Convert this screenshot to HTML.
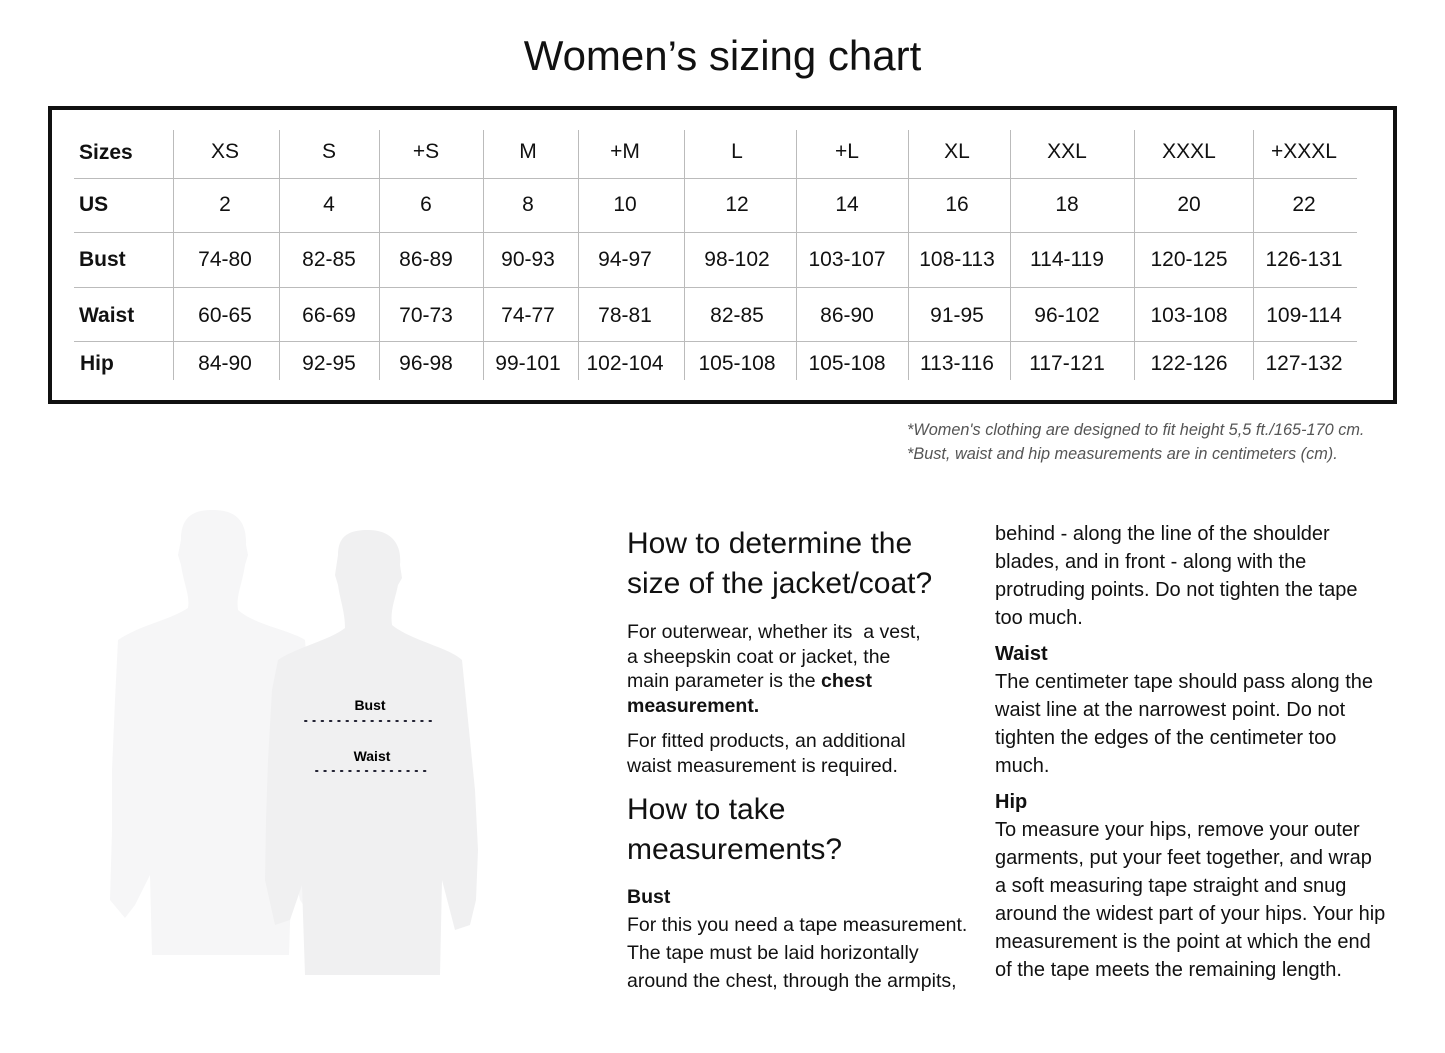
<!DOCTYPE html>
<html><head><meta charset="utf-8"><style>
body{margin:0;width:1445px;height:1053px;background:#fff;position:relative;font-family:"Liberation Sans","DejaVu Sans",sans-serif;color:#111;overflow:hidden}
.a{position:absolute;white-space:nowrap}
.t{position:absolute;transform:translate(-50%,-50%);font-size:21px;white-space:nowrap}
.h{position:absolute;font-weight:bold;font-size:21px;transform:translateY(-50%)}
.vl{position:absolute;width:1px;background:#bbb;top:130px;height:250px}
.hl{position:absolute;height:1px;background:#bbb;left:74px;width:1283px}
.p{position:absolute;font-size:19.5px;line-height:24.5px;white-space:nowrap}
.r{position:absolute;left:995px;width:440px;font-size:20px;line-height:28px;white-space:nowrap}
</style></head><body>
<div class="a" style="left:0;width:1445px;text-align:center;top:32px;font-size:42px">Women’s sizing chart</div>
<div style="position:absolute;left:48px;top:106px;width:1341px;height:290px;border:4px solid #111"></div>
<div class="vl" style="left:173px"></div><div class="vl" style="left:279px"></div><div class="vl" style="left:379px"></div><div class="vl" style="left:483px"></div><div class="vl" style="left:578px"></div><div class="vl" style="left:684px"></div><div class="vl" style="left:796px"></div><div class="vl" style="left:908px"></div><div class="vl" style="left:1010px"></div><div class="vl" style="left:1134px"></div><div class="vl" style="left:1253px"></div>
<div class="hl" style="top:178px"></div><div class="hl" style="top:232px"></div><div class="hl" style="top:287px"></div><div class="hl" style="top:341px"></div>
<div class="h" style="left:79px;top:153px">Sizes</div><div class="h" style="left:79px;top:205px">US</div><div class="h" style="left:79px;top:260px">Bust</div><div class="h" style="left:79px;top:316px">Waist</div><div class="h" style="left:80px;top:364px">Hip</div>
<div id="cells"></div>
<script>
var cx=[225,329,426,528,625,737,847,957,1067,1189,1304];
var ry=[152,205,260,316,364];
var d=[["XS","S","+S","M","+M","L","+L","XL","XXL","XXXL","+XXXL"],["2","4","6","8","10","12","14","16","18","20","22"],["74-80","82-85","86-89","90-93","94-97","98-102","103-107","108-113","114-119","120-125","126-131"],["60-65","66-69","70-73","74-77","78-81","82-85","86-90","91-95","96-102","103-108","109-114"],["84-90","92-95","96-98","99-101","102-104","105-108","105-108","113-116","117-121","122-126","127-132"]];
var h="";for(var r=0;r<5;r++)for(var c=0;c<11;c++)h+='<div class="t" style="left:'+cx[c]+'px;top:'+ry[r]+'px">'+d[r][c]+'</div>';
document.getElementById("cells").innerHTML=h;
</script>
<div class="a" style="left:907px;top:418px;font-size:16.3px;font-style:italic;color:#555;line-height:24px">*Women's clothing are designed to fit height 5,5 ft./165-170 cm.<br>*Bust, waist and hip measurements are in centimeters (cm).</div>
<svg style="position:absolute;left:0;top:0" width="600" height="1053">
<path fill="#f6f6f7" d="M181,540 C181,515 195,510 213,510 C235,510 247,520 246,545 L248,555 L245,565 C242,585 236,595 238,610 C255,625 290,630 305,640 L310,700 L315,760 L316,830 L320,870 L322,905 L312,918 L300,900 L292,860 L289,955 L152,955 L150,875 L135,905 L125,918 L110,900 L112,830 L112,770 L115,700 L118,640 C140,625 170,620 188,608 C190,595 184,585 181,565 L178,555 Z"/>
<path fill="#f0f0f1" d="M338,555 C338,535 350,530 368,530 C392,530 402,545 400,565 L402,578 L398,585 C395,600 390,610 392,625 C410,640 450,648 462,660 L468,720 L475,790 L478,850 L476,900 L470,925 L455,930 L442,880 L440,975 L305,975 L302,885 L290,920 L275,925 L265,880 L266,820 L268,760 L272,690 L278,660 C295,648 330,640 345,628 C345,612 340,600 338,585 L335,575 Z"/>
<line x1="305" y1="721" x2="437" y2="721" stroke="#223" stroke-width="2" stroke-dasharray="1.5 6.8" stroke-linecap="round"/>
<line x1="316" y1="771" x2="427" y2="771" stroke="#223" stroke-width="2" stroke-dasharray="1.5 6.8" stroke-linecap="round"/>
<text x="370" y="710" font-size="14" font-weight="bold" text-anchor="middle" font-family="Liberation Sans">Bust</text>
<text x="372" y="761" font-size="14" font-weight="bold" text-anchor="middle" font-family="Liberation Sans">Waist</text>
</svg>
<div class="a" style="left:627px;top:524px;font-size:30px;line-height:40px">How to determine the<br>size of the jacket/coat?</div>
<div class="p" style="left:627px;top:620px">For outerwear, whether its &nbsp;a vest,<br>a sheepskin coat or jacket, the<br>main parameter is the <b>chest<br>measurement.</b></div>
<div class="p" style="left:627px;top:729px">For fitted products, an additional<br>waist measurement is required.</div>
<div class="a" style="left:627px;top:790px;font-size:30px;line-height:40px">How to take<br>measurements?</div>
<div class="p" style="left:627px;top:883px;line-height:28px"><b>Bust</b><br>For this you need a tape measurement.<br>The tape must be laid horizontally<br>around the chest, through the armpits,</div>
<div class="r" style="top:520px">behind - along the line of the shoulder<br>blades, and in front - along with the<br>protruding points. Do not tighten the tape<br>too much.</div>
<div class="r" style="top:640px"><b>Waist</b><br>The centimeter tape should pass along the<br>waist line at the narrowest point. Do not<br>tighten the edges of the centimeter too<br>much.</div>
<div class="r" style="top:788px"><b>Hip</b><br>To measure your hips, remove your outer<br>garments, put your feet together, and wrap<br>a soft measuring tape straight and snug<br>around the widest part of your hips. Your hip<br>measurement is the point at which the end<br>of the tape meets the remaining length.</div>
</body></html>
